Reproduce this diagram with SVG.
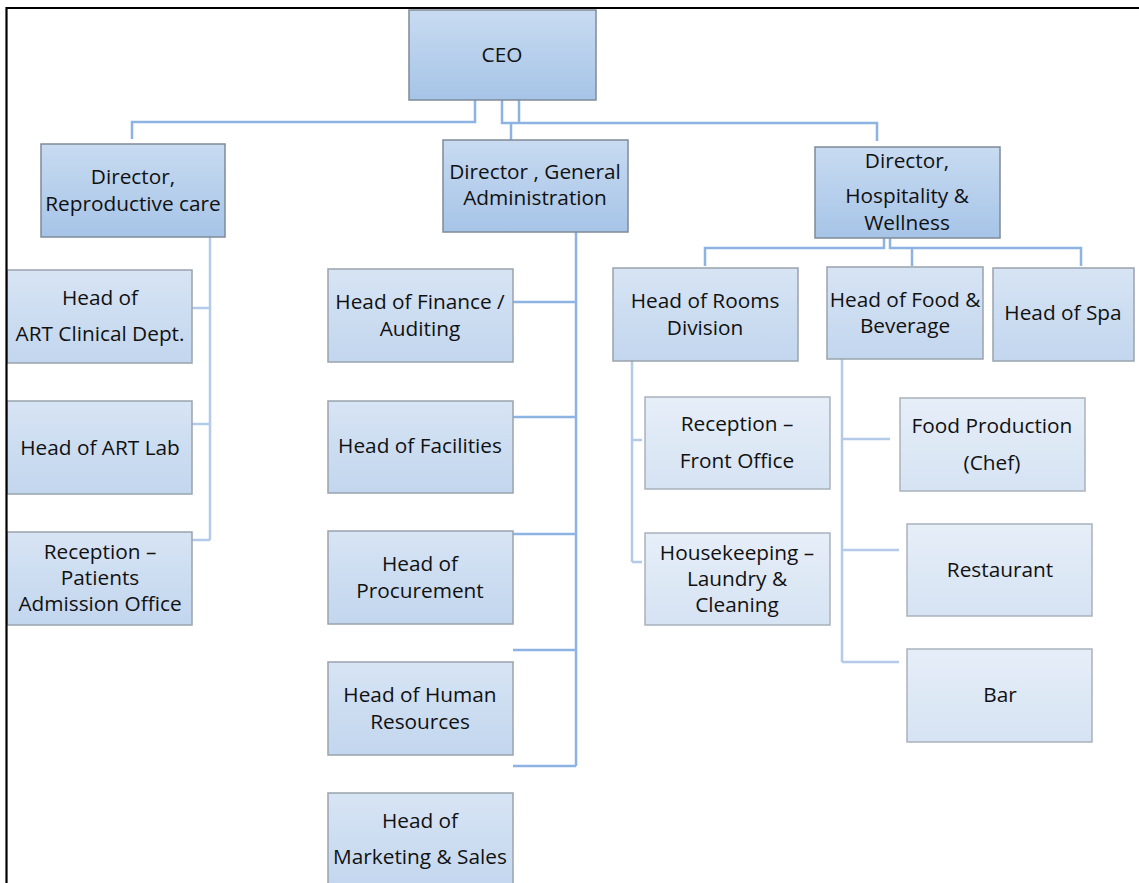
<svg xmlns="http://www.w3.org/2000/svg" width="1139" height="883" viewBox="0 0 1139 883">
<defs>
<linearGradient id="g1" x1="0" y1="0" x2="0" y2="1"><stop offset="0" stop-color="#c8dbf1"/><stop offset="1" stop-color="#a6c4e7"/></linearGradient>
<linearGradient id="g2" x1="0" y1="0" x2="0" y2="1"><stop offset="0" stop-color="#d7e4f4"/><stop offset="1" stop-color="#c2d6ee"/></linearGradient>
<linearGradient id="g3" x1="0" y1="0" x2="0" y2="1"><stop offset="0" stop-color="#e6eef8"/><stop offset="1" stop-color="#d6e3f3"/></linearGradient>
</defs>
<style>
.l1{fill:url(#g1);stroke:#7f8b98;stroke-width:1.5}
.l2{fill:url(#g2);stroke:#9aa3ad;stroke-width:1.5}
.l3{fill:url(#g3);stroke:#a9b2bc;stroke-width:1.5}
text{font-family:"Open Sans","Liberation Sans",sans-serif;font-size:20.8px;fill:#111;text-anchor:middle}
.c{fill:none;stroke:#8db3e2;stroke-width:2.5}
.c2{fill:none;stroke:#b3cae8;stroke-width:2.5}
</style>
<rect x="0" y="0" width="1139" height="883" fill="#fff"/>

<g id="connectors">
<path class="c" d="M475,100 V122 H132 V139"/>
<path class="c" d="M502,100 V123 H877 V141"/>
<path class="c" d="M519,100 V123"/>
<path class="c" d="M511,123 V140"/>
<path class="c2" d="M210,237 V540"/>
<path class="c2" d="M182,308 H210 M182,424 H210 M182,540 H210"/>
<path class="c" d="M576,232 V766"/>
<path class="c" d="M513,302 H576 M513,417 H576 M513,534 H576 M513,650 H576 M513,766 H576"/>
<path class="c" d="M884,238 V248 H705 V266"/>
<path class="c" d="M890,238 V248 H1081 V266"/>
<path class="c" d="M912,248 V266"/>
<path class="c2" d="M632,361 V562"/>
<path class="c2" d="M632,440 H642 M632,562 H642"/>
<path class="c2" d="M842,359 V662"/>
<path class="c2" d="M842,439 H890 M842,550 H899 M842,662 H899"/>
</g>

<g id="ceo"><rect class="l1" x="409" y="10" width="187" height="90"/><text x="502" y="62">CEO</text></g>
<g id="dir-repro"><rect class="l1" x="41" y="144" width="184" height="93"/><text x="133" y="184">Director,</text><text x="133" y="211">Reproductive care</text></g>
<g id="dir-admin"><rect class="l1" x="443" y="140" width="185" height="92"/><text x="535" y="179">Director , General</text><text x="535" y="205">Administration</text></g>
<g id="dir-hosp"><rect class="l1" x="815" y="147" width="185" height="91"/><text x="907" y="168">Director,</text><text x="907" y="203">Hospitality &amp;</text><text x="907" y="230">Wellness</text></g>

<g id="art-clinical"><rect class="l2" x="7" y="270" width="185" height="93"/><text x="100" y="305">Head of</text><text x="100" y="341">ART Clinical Dept.</text></g>
<g id="art-lab"><rect class="l2" x="7" y="401" width="185" height="93"/><text x="100" y="455">Head of ART Lab</text></g>
<g id="reception-patients"><rect class="l2" x="7" y="532" width="185" height="93"/><text x="100" y="559">Reception –</text><text x="100" y="585">Patients</text><text x="100" y="611">Admission Office</text></g>

<g id="finance"><rect class="l2" x="328" y="269" width="185" height="93"/><text x="420" y="309">Head of Finance /</text><text x="420" y="336">Auditing</text></g>
<g id="facilities"><rect class="l2" x="328" y="401" width="185" height="92"/><text x="420" y="453">Head of Facilities</text></g>
<g id="procurement"><rect class="l2" x="328" y="531" width="185" height="93"/><text x="420" y="571">Head of</text><text x="420" y="598">Procurement</text></g>
<g id="hr"><rect class="l2" x="328" y="662" width="185" height="93"/><text x="420" y="702">Head of Human</text><text x="420" y="729">Resources</text></g>
<g id="marketing"><rect class="l2" x="328" y="793" width="185" height="100"/><text x="420" y="828">Head of</text><text x="420" y="864">Marketing &amp; Sales</text></g>

<g id="rooms"><rect class="l2" x="613" y="268" width="185" height="93"/><text x="705" y="308">Head of Rooms</text><text x="705" y="335">Division</text></g>
<g id="food-bev"><rect class="l2" x="827" y="267" width="156" height="92"/><text x="905" y="307">Head of Food &amp;</text><text x="905" y="333">Beverage</text></g>
<g id="spa"><rect class="l2" x="993" y="268" width="141" height="93"/><text x="1063" y="320">Head of Spa</text></g>

<g id="front-office"><rect class="l3" x="645" y="397" width="185" height="92"/><text x="737" y="431">Reception –</text><text x="737" y="468">Front Office</text></g>
<g id="housekeeping"><rect class="l3" x="645" y="533" width="185" height="92"/><text x="737" y="560">Housekeeping –</text><text x="737" y="586">Laundry &amp;</text><text x="737" y="612">Cleaning</text></g>
<g id="food-production"><rect class="l3" x="900" y="398" width="185" height="93"/><text x="992" y="433">Food Production</text><text x="992" y="470">(Chef)</text></g>
<g id="restaurant"><rect class="l3" x="907" y="524" width="185" height="92"/><text x="1000" y="577">Restaurant</text></g>
<g id="bar"><rect class="l3" x="907" y="649" width="185" height="93"/><text x="1000" y="702">Bar</text></g>

<g id="frame"><path d="M6.5,883 V8 H1139" fill="none" stroke="#000" stroke-width="2.2"/></g>
</svg>
